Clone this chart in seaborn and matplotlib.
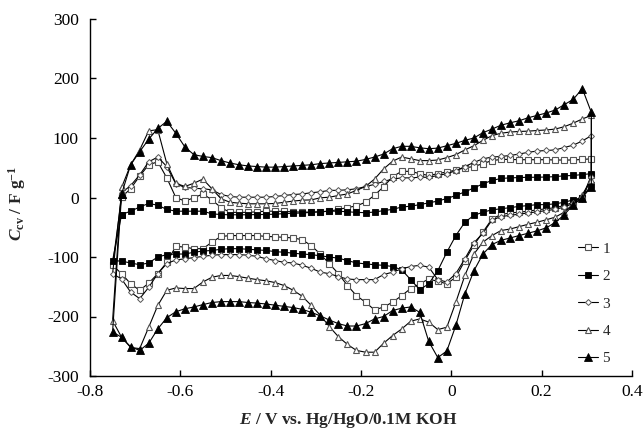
import matplotlib
matplotlib.use("Agg")
import matplotlib.pyplot as plt
import pandas as pd
import seaborn as sns

# Potential grid (V) of the anodic sweep and the cathodic sweep
E_UP = [-0.73, -0.71, -0.69, -0.67, -0.65, -0.63, -0.61, -0.59, -0.57, -0.55,
        -0.53, -0.51, -0.49, -0.47, -0.45, -0.43, -0.41, -0.39, -0.37, -0.35,
        -0.33, -0.31, -0.29, -0.27, -0.25, -0.23, -0.21, -0.19, -0.17, -0.15,
        -0.13, -0.11, -0.09, -0.07, -0.05, -0.03, -0.01, 0.01, 0.03, 0.05,
        0.07, 0.09, 0.11, 0.13, 0.15, 0.17, 0.19, 0.21, 0.23, 0.25,
        0.27, 0.29, 0.31]
E_DOWN = E_UP[::-1] + [-0.75]

# Specific capacitance (F/g), anodic (UP) and cathodic (DOWN) branches
C1_UP = [0.5, 15, 36, 55, 60, 33, 0, -6, -0.5, 6,
         -4, -17, -25, -25, -25, -24, -23, -23, -23.5, -24,
         -24.5, -24.5, -24, -23, -20, -17, -14, -8, 4, 18,
         35, 44, 44, 40, 37, 40, 43, 46, 50, 52,
         57, 62, 64, 64, 63.5, 63.5, 63.5, 63.5, 63, 63,
         63, 64, 65]
C1_DOWN = [37, 0, -8, -13.5, -17, -19, -20.7, -23, -24.7, -26,
           -28.6, -36, -58, -80, -106, -134, -145, -141, -137, -145,
           -153, -165, -176, -184, -189, -176, -165, -148, -128, -111.5,
           -95, -81, -71, -68, -67, -66, -65.5, -64, -64, -64,
           -64, -65.5, -75, -86, -86, -83.5, -82, -109, -128, -144,
           -156, -145, -128, -114]

C2_UP = [-28.6, -23, -16, -10, -13, -20, -23, -23, -23, -23,
         -27.5, -28.6, -29, -29, -29, -28.6, -28.6, -28, -27, -26.5,
         -26, -25, -24, -23, -23, -24, -25, -25.5, -24.5, -22,
         -20, -16, -14.6, -12, -9, -6, -1.7, 3.4, 9.5, 16,
         23, 28.6, 32, 33, 33.5, 34, 34, 34.5, 35, 36.5,
         37, 38.6, 40]
C2_DOWN = [21, 0, -4, -8, -10.6, -12, -12, -13.5, -15, -17,
           -19, -20.7, -24.7, -30, -41.5, -64, -92, -123, -145, -155,
           -138, -121.5, -116, -114, -113, -111.5, -110, -106, -102, -100,
           -98, -96, -95, -93.6, -92, -91, -89, -88, -87, -86,
           -86, -87, -89, -90, -92, -95, -95, -96, -100, -110,
           -113, -110, -107, -106]

C3_UP = [8, 20, 38, 60, 68, 52, 23, 17, 15.6, 14.6,
         13, 5, 1.7, 0.5, 0.5, 0.5, 0.5, 1.7, 3.4, 5,
         6, 8, 9.5, 12, 12, 13, 14.6, 18.5, 22, 27,
         31, 33, 33, 34, 34, 37, 40, 45, 52, 59,
         65, 68, 69, 70.6, 73, 76, 78, 79, 80, 84,
         88, 95, 104]
C3_DOWN = [35, -3, -10, -16, -20, -22, -24, -26, -28, -30,
           -32, -38, -60, -76, -103, -128, -142, -138, -117, -114,
           -116, -120, -125.5, -129.5, -138, -138, -138, -137, -133, -128,
           -125.5, -119, -114, -110, -109, -106, -103, -99, -97, -96,
           -96, -96, -97, -99, -101, -103, -105, -111, -128, -151,
           -170, -159, -137, -128]

C4_UP = [17, 55, 80, 112, 114, 57, 24, 18.5, 24, 31,
         14.6, -2, -8, -9.5, -10.6, -10.6, -10.6, -10, -8, -6,
         -4.5, -4, -0.5, 0.5, 3.4, 6, 12, 18.5, 31, 48,
         61, 68, 65, 62, 62, 63, 67, 72, 80, 87,
         96, 104, 108, 110, 111, 111.5, 112.6, 113.5, 115, 119,
         125, 132, 138]
C4_DOWN = [30, 5, -10.6, -24.7, -33, -37.5, -41.5, -45, -49, -53,
           -55.5, -64, -75, -95, -131, -176, -218, -222, -209.5, -204,
           -208, -221, -232, -245, -260, -260, -257, -247, -234, -217,
           -198, -181.5, -166, -156, -148, -143, -140, -138, -135.6, -133,
           -131, -131, -134, -142, -153, -153, -152, -156, -181.5, -218,
           -254, -252, -235, -207]

C5_UP = [6, 55, 77, 98, 116, 128, 108, 85, 72, 69,
         67, 62, 58, 55, 53, 52, 51, 51, 52, 53,
         54, 55, 57, 58, 59, 60, 61, 64, 68, 73,
         82, 86, 86, 83.5, 82, 83, 87, 91, 96, 100,
         109, 115, 121.5, 125.5, 129, 134, 138, 142, 147, 156,
         165, 183, 143]
C5_DOWN = [18, 0, -12, -29, -42, -51, -56, -60, -64, -68,
           -72, -79, -95, -123, -162, -215, -258, -269, -242, -193,
           -184, -186, -190, -200, -204, -212, -216, -216, -212, -206,
           -199, -193, -188, -185, -183, -181, -179, -177.5, -176.5, -175,
           -175, -175, -176.5, -180, -184, -187, -192, -202, -221, -245,
           -257, -251, -235, -226]

LABELS = ["1", "2", "3", "4", "5"]
X_TICKS = [-0.8, -0.6, -0.4, -0.2, 0, 0.2, 0.4]
X_TICKLABELS = ["-0.8", "-0.6", "-0.4", "-0.2", "0", "0.2", "0.4"]
Y_TICKS = [-300, -200, -100, 0, 100, 200, 300]
Y_TICKLABELS = ["-300", "-200", "-100", "0", "100", "200", "300"]

sns.set_theme(style="ticks")
plt.rcParams["font.family"] = ["Liberation Serif", "DejaVu Serif"]
plt.rcParams["mathtext.fontset"] = "custom"
plt.rcParams["mathtext.rm"] = "Liberation Serif"
plt.rcParams["mathtext.it"] = "Liberation Serif:italic"
plt.rcParams["mathtext.bf"] = "Liberation Serif:bold"
plt.rcParams["mathtext.bfit"] = "Liberation Serif:italic:bold"
plt.rcParams["axes.unicode_minus"] = False

fig = plt.figure(figsize=(6.44, 4.33), dpi=100)
ax = fig.add_axes([90 / 644, 1 - 376 / 433, 542 / 644, 357 / 433])

styles = [
    dict(marker="s", markersize=4.0, markerfacecolor="white", markeredgecolor="#555555", markeredgewidth=0.8),
    dict(marker="s", markersize=4.2, markerfacecolor="black", markeredgecolor="black", markeredgewidth=0.6),
    dict(marker="D", markersize=3.0, markerfacecolor="white", markeredgecolor="#555555", markeredgewidth=0.7),
    dict(marker="^", markersize=4.3, markerfacecolor="white", markeredgecolor="#555555", markeredgewidth=0.8),
    dict(marker="^", markersize=5.5, markerfacecolor="black", markeredgecolor="black", markeredgewidth=0.6),
]
curves = [(C1_UP, C1_DOWN), (C2_UP, C2_DOWN), (C3_UP, C3_DOWN), (C4_UP, C4_DOWN), (C5_UP, C5_DOWN)]

for lab, (up, down), st in zip(LABELS, curves, styles):
    df = pd.DataFrame({"E": E_UP + E_DOWN + [E_UP[0]], "C": up + down + [up[0]]})
    sns.lineplot(data=df, x="E", y="C", sort=False, estimator=None, color="black",
                 linewidth=0.8, label=lab, ax=ax, **st)

ax.set_xlim(-0.8, 0.4)
ax.set_ylim(-300, 300)
ax.set_xticks(X_TICKS)
ax.set_xticklabels(X_TICKLABELS)
ax.set_yticks(Y_TICKS)
ax.set_yticklabels(Y_TICKLABELS)
ax.set_xlabel("")
ax.set_ylabel("")
sns.despine(ax=ax)
for s in ["left", "bottom"]:
    ax.spines[s].set_linewidth(1.0)
    ax.spines[s].set_color("black")
ax.tick_params(axis="both", direction="in", length=4, width=1.0, colors="black", labelsize=12.5)
ax.tick_params(axis="x", pad=6)
ax.tick_params(axis="y", pad=8)

handles, labels = ax.get_legend_handles_labels()
ax.legend(handles, labels, loc="upper left", bbox_to_anchor=(578 / 644, 1 - 242 / 433),
          bbox_transform=fig.transFigure, frameon=False, fontsize=11,
          handlelength=1.3, handletextpad=0.3, labelspacing=0.9,
          borderpad=0, borderaxespad=0)

fig.text(348 / 644, 1 - 420 / 433, r"$\mathbfit{E}$ / V vs. Hg/HgO/0.1M KOH",
         ha="center", va="center", fontsize=12.5, fontweight="bold")
fig.text(17 / 644, 1 - 203 / 433, r"$\mathbfit{C}_{\mathbf{cv}}$ / F g$^{\mathbf{-1}}$",
         ha="center", va="center", rotation=90, fontsize=12.5, fontweight="bold")

fig.savefig("out.png", dpi=100)
